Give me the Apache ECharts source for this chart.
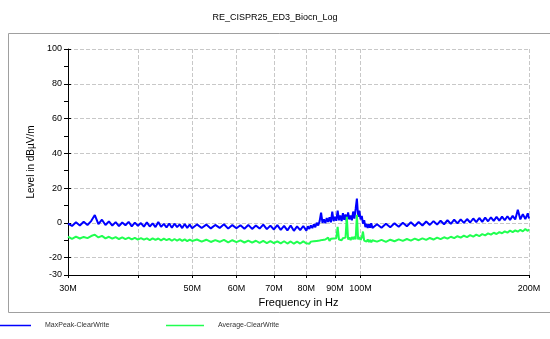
<!DOCTYPE html>
<html>
<head>
<meta charset="utf-8">
<script src="https://cdn.jsdelivr.net/npm/echarts@6/dist/echarts.min.js"></script>
<style>
  html, body { margin: 0; padding: 0; background: #fff; }
  #chart { width: 550px; height: 339px; }
</style>
</head>
<body>
<div id="chart"></div>
<script>
// frequency points in MHz
const freqMHz = [
  30, 30.5, 31, 31.5, 32, 32.5, 33, 33.5, 34, 34.5,
  35, 35.5, 36, 36.5, 37, 37.5, 38, 38.5, 39, 39.5,
  40, 40.5, 41, 41.5, 42, 42.5, 43, 43.5, 44, 44.5,
  45, 45.5, 46, 46.5, 47, 47.5, 48, 48.5, 49, 49.5,
  50,
  51, 52, 53, 54, 55, 56, 57, 58, 59, 60,
  61, 62, 63, 64, 65, 66, 67, 68, 69, 70,
  71, 72, 73, 74, 75, 76, 77, 78, 79, 80,
  80.5, 81, 81.5, 82, 82.5, 83, 83.5, 84, 84.5, 85,
  85.5, 86, 86.5, 87, 87.5, 88, 88.5, 89, 89.5, 90,
  90.5, 91, 91.5, 92, 92.5, 93, 93.5, 94, 94.5, 95,
  95.5, 96, 96.5, 97, 97.5, 98, 98.5, 99, 99.5, 100,
  100.5, 101, 101.5, 102, 102.5, 103, 103.5, 104, 104.5, 105,
  107, 109, 111, 113, 115, 117, 119, 121, 123, 125,
  127, 129, 131, 133, 135, 137, 139, 141, 143, 145,
  147, 149, 151, 153, 155, 157, 159, 161, 163, 165,
  167, 169, 171, 173, 175, 177, 179, 181, 183, 185,
  187, 189, 191, 193, 195, 197, 199, 200
];

// MaxPeak-ClearWrite, dBµV/m
const maxPeak = [
  -0.5, -1.8, 0.3, -1.5, 0.6, -1.2, 1.0, 4.5, -0.8, 1.8,
  -1.2, 0.8, -1.6, 0.4, -1.9, 0.2, -1.4, 0.6, -2.0, 0.1,
  -1.7, -0.1, -2.2, 0.3, -2.1, -0.3, -2.4, 0.5, -2.3, -0.6,
  -2.6, -0.4, -2.8, -0.5, -2.5, -0.9, -3.0, -0.7, -2.9, -1.0,
  -3.1,
  -0.9, -3.0, -1.0, -3.2, -1.2, -2.9, -0.8, -3.3, -1.3, -3.1,
  -1.4, -3.4, -1.2, -3.5, -1.5, -3.3, -1.0, -3.6, -1.6, -3.8,
  -1.3, -4.0, -1.7, -4.3, -1.5, -4.6, -2.0, -4.2, -1.8, -4.5,
  -2.0, -3.5, -1.5, -3.0, -0.8, -2.5, 0.0, -1.5, 1.0, 5.8,
  0.0, 2.0, -0.2, 2.8, 0.5, 3.2, 0.3, 6.5, 1.0, 3.5,
  1.2, 7.0, 1.5, 4.2, 1.0, 5.5, 1.8, 4.8, 0.8, 6.0,
  2.0, 4.2, 1.5, 6.5, 2.5, 8.0, 14.0, 3.5, 7.0, 2.0,
  4.0, -0.5, 1.5, -2.5, -0.5, -3.0, -0.8, -2.8, -0.2, -3.0,
  -0.8, -2.8, -0.5, -2.5, -0.3, -2.2, 0.0, -2.0, 0.3, -1.8,
  0.5, -1.5, 0.8, -1.2, 1.0, -1.0, 1.2, -0.8, 1.5, -0.6,
  1.8, -0.3, 2.0, 0.0, 2.2, 0.2, 2.5, 0.4, 2.8, 0.6,
  3.0, 0.9, 3.2, 1.1, 3.4, 1.3, 3.6, 1.5, 3.8, 1.7,
  4.0, 1.9, 7.5, 2.0, 5.0, 2.2, 5.5, 2.5
];

// Average-ClearWrite, dBµV/m
const average = [
  -8.0, -9.2, -7.9, -9.0, -8.1, -8.8, -7.6, -6.8, -8.4, -7.5,
  -8.9, -8.0, -9.1, -8.2, -9.3, -8.4, -9.4, -8.5, -9.5, -8.6,
  -9.6, -8.8, -9.7, -8.9, -9.9, -8.9, -9.8, -9.0, -10.1, -9.1,
  -10.0, -9.2, -10.3, -9.3, -10.2, -9.4, -10.4, -9.5, -10.5, -9.6,
  -10.4,
  -9.6, -10.8, -9.7, -11.0, -9.9, -10.9, -9.8, -11.2, -10.0, -11.1,
  -10.1, -11.3, -10.2, -11.4, -10.3, -11.5, -10.4, -11.6, -10.5, -11.7,
  -10.6, -11.8, -10.6, -11.9, -10.7, -12.0, -10.8, -11.9, -10.7, -11.8,
  -11.0, -12.0, -10.8, -11.8, -10.6, -11.5, -10.4, -11.3, -10.2, -11.0,
  -9.8, -10.8, -9.6, -10.5, -8.5, -10.4, -9.2, -10.2, -9.0, -10.0,
  -8.8, -2.3, -9.6, -8.6, -10.0, -8.8, -9.8, -8.5, 3.5, -9.6,
  -8.4, -9.9, -8.2, -9.5, -8.0, -9.4, 4.6, -9.5, -8.3, -9.8,
  -8.6, -5.0, -10.2, -9.4, -10.8, -9.6, -11.0, -9.8, -11.2, -10.0,
  -10.8, -9.8, -10.9, -9.7, -10.6, -9.5, -10.4, -9.3, -10.2, -9.1,
  -10.0, -8.9, -9.8, -8.7, -9.6, -8.5, -9.4, -8.3, -9.1, -8.0,
  -8.8, -7.7, -8.5, -7.4, -8.2, -7.1, -7.9, -6.8, -7.6, -6.5,
  -7.2, -6.1, -6.8, -5.7, -6.4, -5.3, -6.0, -4.9, -5.6, -4.5,
  -5.3, -4.3, -5.1, -4.0, -4.9, -3.6, -4.6, -3.8
];

const xTicks = [30, 40, 50, 60, 70, 80, 90, 100, 200];
const xLabels = [30, 50, 60, 70, 80, 90, 100, 200];
const yLabels = [-30, -20, 0, 20, 40, 60, 80, 100];
const yGrid = [-20, 0, 20, 40, 60, 80, 100];

const FONT = 'Liberation Sans, Arial, sans-serif';

const chart = echarts.init(document.getElementById('chart'));

chart.setOption({
  animation: false,
  backgroundColor: '#fff',
  title: {
    text: 'RE_CISPR25_ED3_Biocn_Log',
    left: 'center',
    top: 8,
    textStyle: { fontSize: 9, fontWeight: 'normal', color: '#000', fontFamily: FONT }
  },
  graphic: [{
    type: 'rect',
    shape: { x: 8.5, y: 33.5, width: 560, height: 279 },
    style: { fill: 'none', stroke: '#a0a0a0', lineWidth: 1 },
    silent: true
  }],
  legend: [
    {
      data: ['MaxPeak-ClearWrite'],
      left: -7,
      top: 322,
      padding: 0,
      icon: 'rect',
      itemWidth: 38,
      itemHeight: 1.5,
      textStyle: { fontSize: 7, color: '#333', fontFamily: FONT, padding: [0, 0, 0, 9] }
    },
    {
      data: ['Average-ClearWrite'],
      left: 166,
      top: 322,
      padding: 0,
      icon: 'rect',
      itemWidth: 38,
      itemHeight: 1.5,
      textStyle: { fontSize: 7, color: '#333', fontFamily: FONT, padding: [0, 0, 0, 9] }
    }
  ],
  grid: { left: 68, right: 21, top: 49, bottom: 64 },
  xAxis: {
    type: 'log',
    logBase: 10,
    min: 30,
    max: 200,
    name: 'Frequency in Hz',
    nameLocation: 'middle',
    nameGap: 20,
    nameTextStyle: { fontSize: 11, color: '#000', fontFamily: FONT },
    axisLine: { onZero: false, lineStyle: { color: '#000' } },
    axisTick: { customValues: xTicks, length: 3, lineStyle: { color: '#000' } },
    axisLabel: {
      customValues: xLabels,
      formatter: (v) => Math.round(v) + 'M',
      fontSize: 9,
      color: '#000',
      fontFamily: FONT,
      margin: 9
    },
    splitLine: { show: true, lineStyle: { type: 'dashed', color: '#c8c8c8' } }
  },
  yAxis: [
    {
      type: 'value',
      min: -30,
      max: 100,
      interval: 10,
      name: 'Level in dBµV/m',
      nameLocation: 'middle',
      nameGap: 30,
      nameTextStyle: { fontSize: 10, color: '#000', fontFamily: FONT },
      axisLine: { show: true, onZero: false, lineStyle: { color: '#000' } },
      axisTick: { show: true, length: 4, lineStyle: { color: '#000' } },
      axisLabel: { customValues: yLabels, fontSize: 9, color: '#000', fontFamily: FONT, margin: 6 },
      splitLine: { show: false }
    },
    {
      type: 'value',
      min: -30,
      max: 100,
      position: 'left',
      axisLine: { show: false },
      axisTick: { show: true, inside: true, length: 3, customValues: yGrid, lineStyle: { color: '#000' } },
      axisLabel: { show: false },
      splitLine: { show: true, lineStyle: { type: 'dashed', color: '#c8c8c8' } }
    }
  ],
  series: [
    {
      name: 'MaxPeak-ClearWrite',
      type: 'line',
      yAxisIndex: 0,
      data: freqMHz.map((f, i) => [f, maxPeak[i]]),
      showSymbol: false,
      color: '#0000ff',
      lineStyle: { width: 2, color: '#0000ff' }
    },
    {
      name: 'Average-ClearWrite',
      type: 'line',
      yAxisIndex: 0,
      data: freqMHz.map((f, i) => [f, average[i]]),
      showSymbol: false,
      color: '#20ff50',
      lineStyle: { width: 2, color: '#20ff50' }
    }
  ]
});
</script>
</body>
</html>
